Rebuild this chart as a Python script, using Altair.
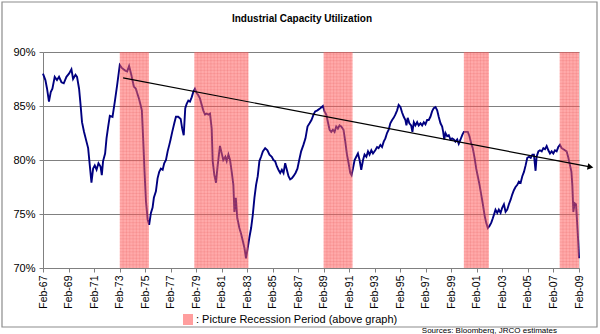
import altair as alt
import numpy as np
import pandas as pd

# ---- data ----
years = [1967.08, 1967.27, 1967.40, 1967.55, 1967.69, 1967.82, 1968.00, 1968.18, 1968.34, 1968.53,
         1968.71, 1968.92, 1969.12, 1969.31, 1969.44, 1969.63, 1969.75, 1969.91, 1970.02, 1970.14,
         1970.30, 1970.49, 1970.62, 1970.75, 1970.88, 1971.01, 1971.14, 1971.28, 1971.43, 1971.59,
         1971.69, 1971.79, 1971.95, 1972.06, 1972.19, 1972.32, 1972.53, 1972.71, 1972.89, 1973.10,
         1973.28, 1973.50, 1973.68, 1973.83, 1974.02, 1974.20, 1974.36, 1974.46, 1974.60, 1974.73,
         1974.83, 1974.93, 1975.04, 1975.15, 1975.28, 1975.40, 1975.54, 1975.67, 1975.77, 1975.93,
         1976.06, 1976.19, 1976.32, 1976.46, 1976.58, 1976.72, 1976.85, 1976.98, 1977.08, 1977.21,
         1977.37, 1977.50, 1977.68, 1977.87, 1977.99, 1978.11, 1978.23, 1978.34, 1978.47, 1978.60,
         1978.73, 1978.86, 1978.99, 1979.13, 1979.25, 1979.38, 1979.52, 1979.64, 1979.78, 1979.91,
         1980.04, 1980.17, 1980.30, 1980.38, 1980.51, 1980.64, 1980.77, 1980.95, 1981.11, 1981.21,
         1981.37, 1981.48, 1981.61, 1981.74, 1981.87, 1982.00, 1982.08, 1982.19, 1982.31, 1982.47,
         1982.60, 1982.74, 1982.86, 1982.99, 1983.13, 1983.25, 1983.39, 1983.52, 1983.65, 1983.78,
         1983.91, 1984.04, 1984.17, 1984.31, 1984.49, 1984.67, 1984.83, 1985.01, 1985.14, 1985.27,
         1985.41, 1985.53, 1985.67, 1985.80, 1985.93, 1986.06, 1986.19, 1986.32, 1986.45, 1986.58,
         1986.71, 1986.87, 1987.02, 1987.16, 1987.31, 1987.49, 1987.65, 1987.81, 1987.97, 1988.12,
         1988.28, 1988.41, 1988.59, 1988.81, 1989.02, 1989.14, 1989.28, 1989.41, 1989.54, 1989.67,
         1989.80, 1989.93, 1990.06, 1990.19, 1990.32, 1990.45, 1990.63, 1990.77, 1990.90, 1991.03,
         1991.16, 1991.26, 1991.37, 1991.50, 1991.63, 1991.76, 1991.89, 1992.02, 1992.16, 1992.28,
         1992.42, 1992.55, 1992.67, 1992.81, 1992.94, 1993.12, 1993.26, 1993.38, 1993.52, 1993.65,
         1993.78, 1993.91, 1994.04, 1994.17, 1994.30, 1994.44, 1994.56, 1994.69, 1994.83, 1994.95,
         1995.09, 1995.22, 1995.35, 1995.48, 1995.56, 1995.66, 1995.79, 1995.93, 1996.03, 1996.14,
         1996.26, 1996.40, 1996.52, 1996.66, 1996.79, 1996.92, 1997.05, 1997.18, 1997.31, 1997.44,
         1997.57, 1997.70, 1997.84, 1997.97, 1998.09, 1998.23, 1998.36, 1998.44, 1998.52, 1998.62,
         1998.75, 1998.88, 1999.01, 1999.14, 1999.27, 1999.40, 1999.54, 1999.66, 1999.80, 1999.93,
         2000.06, 2000.21, 2000.37, 2000.50, 2000.64, 2000.76, 2000.90, 2001.03, 2001.15, 2001.29,
         2001.42, 2001.55, 2001.68, 2001.81, 2001.94, 2002.07, 2002.21, 2002.33, 2002.49, 2002.54,
         2002.68, 2002.80, 2002.94, 2003.07, 2003.20, 2003.33, 2003.46, 2003.59, 2003.72, 2003.85,
         2003.98, 2004.11, 2004.25, 2004.37, 2004.51, 2004.64, 2004.77, 2004.90, 2005.03, 2005.16,
         2005.30, 2005.43, 2005.55, 2005.68, 2005.76, 2005.90, 2006.02, 2006.16, 2006.29, 2006.42,
         2006.55, 2006.68, 2006.81, 2006.94, 2007.07, 2007.20, 2007.33, 2007.46, 2007.59, 2007.72,
         2007.86, 2007.98, 2008.11, 2008.25, 2008.38, 2008.49, 2008.56, 2008.64, 2008.74, 2008.85,
         2008.93, 2009.02, 2009.08]

util = [88.0, 87.4, 86.6, 85.4, 86.3, 86.6, 87.7, 87.4, 87.7, 87.2,
        87.1, 87.7, 88.0, 88.4, 87.5, 87.9, 87.7, 86.6, 85.2, 83.5,
        82.6, 81.7, 81.1, 79.5, 77.9, 79.2, 79.5, 79.1, 79.7, 79.4,
        78.6, 79.9, 80.6, 82.0, 83.1, 84.1, 84.0, 85.4, 86.9, 88.8,
        88.5, 88.3, 88.2, 88.7, 87.8, 86.8, 86.6, 86.2, 85.7, 85.1,
        84.6, 82.0, 78.9, 76.2, 74.5, 74.0, 75.1, 75.6, 76.5, 77.1,
        78.3, 78.9, 79.2, 79.1, 79.7, 80.0, 80.8, 81.4, 81.9, 82.6,
        83.4, 84.0, 84.0, 83.8, 82.9, 82.3, 84.8, 85.2, 85.5, 85.4,
        85.8, 86.3, 86.6, 86.2, 86.0, 85.7, 85.1, 84.6, 84.2, 84.3,
        84.2, 84.3, 82.9, 79.9, 78.6, 77.9, 79.5, 81.3, 80.5, 80.0,
        80.3, 79.9, 80.5, 80.0, 78.9, 77.7, 75.2, 76.5, 74.6, 73.7,
        73.2, 72.5, 71.9, 70.9, 71.9, 72.8, 73.7, 74.9, 76.5, 77.7,
        78.5, 79.9, 80.3, 80.8, 81.1, 80.9, 80.5, 80.3, 80.0, 79.9,
        79.4, 79.1, 78.8, 79.1, 78.8, 79.7, 79.1, 78.5, 78.2, 78.3,
        78.5, 78.8, 79.2, 80.0, 80.8, 81.4, 82.0, 83.1, 83.4, 83.7,
        84.2, 84.5, 84.6, 84.8, 85.0, 84.5, 84.2, 83.5, 82.8, 82.6,
        82.8, 82.6, 83.1, 82.9, 83.2, 83.1, 82.8, 81.7, 80.5, 79.7,
        78.8, 78.6, 79.2, 80.0, 80.3, 80.6, 80.0, 79.1, 80.0, 80.5,
        80.3, 80.8, 80.5, 80.9, 80.6, 80.9, 81.2, 81.1, 81.4, 81.2,
        81.7, 82.0, 82.5, 82.8, 83.4, 83.7, 83.9, 84.2, 84.6, 85.1,
        84.9, 84.4, 84.0, 83.7, 83.2, 83.9, 83.4, 83.2, 82.6, 83.5,
        83.2, 83.5, 83.2, 83.4, 83.2, 83.5, 83.3, 83.7, 83.7, 84.0,
        84.5, 84.8, 84.9, 84.6, 84.0, 83.4, 83.1, 82.6, 81.9, 82.5,
        82.2, 82.3, 81.9, 82.0, 81.9, 81.7, 81.9, 81.5, 81.9, 82.3,
        82.6, 82.6, 82.6, 82.2, 81.5, 81.1, 80.2, 79.2, 78.5, 77.7,
        76.8, 75.9, 74.9, 74.2, 73.7, 73.9, 74.2, 74.6, 75.2, 75.4,
        75.1, 75.4, 75.1, 75.6, 75.9, 75.2, 75.4, 75.9, 76.3, 76.8,
        77.2, 77.5, 77.7, 78.0, 77.9, 78.5, 78.9, 79.5, 80.2, 80.3,
        80.2, 80.5, 80.5, 79.0, 80.3, 80.8, 80.9, 80.8, 81.1, 81.0,
        81.3, 80.9, 80.6, 80.8, 80.6, 80.9, 80.8, 81.2, 81.4, 81.1,
        81.0, 80.9, 80.8, 80.2, 79.5, 78.9, 77.7, 75.2, 76.0, 75.9,
        74.3, 72.5, 70.9]

rec_start = [1973.10, 1978.94, 1989.07, 2000.06, 2007.57]
rec_end = [1975.38, 1983.18, 1991.34, 2002.02, 2009.083]

trend_years = [1973.36, 2009.95]
trend_vals = [87.6, 79.36]
arrow_year = [2009.98]
arrow_val = [79.35]

tick_years = [1967.083 + 2 * k for k in range(22)]
y_ticks = [70, 75, 80, 85, 90]

title_text = "Industrial Capacity Utilization"
legend_text = ":  Picture Recession Period (above graph)"
source_text = "Sources: Bloomberg, JRCO estimates"

FONT = "Liberation Sans"
W, H = 536, 216

series = pd.DataFrame({"year": years, "util": util})
rec = pd.DataFrame({"start": rec_start, "end": rec_end})
trend = pd.DataFrame({"year": trend_years, "util": trend_vals})
arrow = pd.DataFrame({"year": arrow_year, "util": arrow_val})
one = pd.DataFrame({"t": [title_text], "l": [legend_text], "s": [source_text]})

# texture of the "picture" fill: thin grid lines inside each recession band
vx, hs, he, hy = [], [], [], []
for s, e in zip(rec_start, rec_end):
    for v in np.arange(s + 0.26, e, 0.26):
        vx.append(v)
    for yv in np.arange(70.3, 90.0, 0.3):
        hs.append(s); he.append(e); hy.append(yv)
tex_v = pd.DataFrame({"year": vx})
tex_h = pd.DataFrame({"start": hs, "end": he, "util": hy})

xscale = alt.Scale(domain=[1967.083, 2009.083], nice=False, zero=False)
yscale = alt.Scale(domain=[70, 90], nice=False, zero=False)

xaxis = alt.Axis(values=tick_years, labelExpr="'Feb-' + slice('0' + (floor(datum.value) % 100), -2)",
                 labelAngle=-90, labelAlign="right", labelBaseline="middle", labelPadding=3,
                 labelFontSize=10.5, labelColor="black", tickSize=4, tickColor="#808080",
                 domainColor="#808080", grid=False, title=None, labelFont=FONT, labelOverlap=False,
                 labelFlush=False)
yaxis = alt.Axis(values=y_ticks, labelExpr="datum.value + '%'", labelFontSize=11,
                 labelColor="black", tickSize=4, tickColor="#808080", domainColor="#808080",
                 labelPadding=4, grid=True, gridColor="#808080", gridWidth=1, title=None, labelFont=FONT)

X = lambda f: alt.X(f, scale=xscale, axis=xaxis)
Y = lambda f: alt.Y(f, scale=yscale, axis=yaxis)

line = alt.Chart(series).mark_line(color="#000080", strokeWidth=1.9).encode(
    x=X("year:Q"), y=Y("util:Q"))

bands = alt.Chart(rec).mark_rect(color="#ff5c5c", opacity=0.52).encode(
    x=X("start:Q"), x2="end:Q", y=alt.value(0), y2=alt.value(H))

tex_vl = alt.Chart(tex_v).mark_rule(color="#e05050", strokeWidth=0.5, opacity=0.35).encode(
    x=X("year:Q"), y=alt.value(0), y2=alt.value(H))

tex_hl = alt.Chart(tex_h).mark_rule(color="#e05050", strokeWidth=0.5, opacity=0.35).encode(
    x=X("start:Q"), x2="end:Q", y=Y("util:Q"))

trend_line = alt.Chart(trend).mark_line(color="black", strokeWidth=1.2).encode(
    x=X("year:Q"), y=Y("util:Q"))

arrow_head = alt.Chart(arrow).mark_point(shape="triangle-right", filled=True, color="black",
                                         size=45, angle=10.8, opacity=1).encode(
    x=X("year:Q"), y=Y("util:Q"))

title = alt.Chart(one).mark_text(font=FONT, fontSize=10, fontWeight="bold", align="center",
                                 baseline="middle", color="black").encode(
    text="t:N", x=alt.value(259), y=alt.value(-33.5))

legend_sq = alt.Chart(one).mark_rect(color="#ff9e9e").encode(
    x=alt.value(140), x2=alt.value(150), y=alt.value(262), y2=alt.value(273))

legend_txt = alt.Chart(one).mark_text(font=FONT, fontSize=11, align="left", baseline="middle",
                                      color="black").encode(
    text="l:N", x=alt.value(153), y=alt.value(268))

source = alt.Chart(one).mark_text(font=FONT, fontSize=8, align="right", baseline="middle",
                                  color="black").encode(
    text="s:N", x=alt.value(514), y=alt.value(279))

frame = alt.Chart(one).mark_rect(fillOpacity=0, stroke="#8c8c8c", strokeWidth=1.2).encode(
    x=alt.value(-41), x2=alt.value(554), y=alt.value(-50), y2=alt.value(275))

chart = alt.layer(line, bands, tex_vl, tex_hl, trend_line, arrow_head, title, legend_sq, legend_txt,
                  source, frame).properties(
    width=W, height=H,
    autosize=alt.AutoSizeParams(type="none"),
    padding={"left": 43, "top": 52, "right": 21, "bottom": 66},
).configure_view(stroke="#808080", strokeWidth=1).configure_axisX(labelOverlap=False
).configure(background="white")

chart.save("out.html", embed_options={"renderer": "svg", "actions": False})
